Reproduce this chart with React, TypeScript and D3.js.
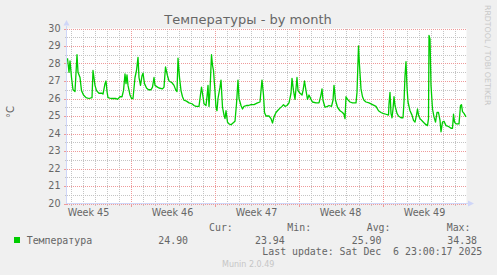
import React from "react";
import * as d3 from "d3";

// Hours since Sun 2 Nov 2025 00:00 (2-hour munin "month" resolution)
const hours = [
  42, 45, 47, 50, 53, 57, 61, 63, 67, 70, 74, 79, 85, 91, 93, 97, 100, 105, 111, 113,
  117, 119, 121, 123, 129, 139, 142, 147, 151, 154, 157, 159, 161, 163, 167, 170, 173, 177, 180, 183,
  185, 188, 191, 193, 196, 200, 204, 209, 212, 215, 217, 222, 225, 232, 235, 238, 242, 245, 251, 255,
  259, 261, 263, 266, 269, 272, 275, 280, 285, 291, 295, 299, 305, 307, 310, 313, 315, 319, 321, 323,
  325, 327, 330, 332, 334, 337, 339, 341, 343, 347, 349, 352, 355, 357, 359, 362, 365, 369, 373, 377,
  380, 383, 385, 389, 392, 395, 400, 404, 409, 415, 422, 427, 429, 431, 434, 436, 439, 445, 449, 452,
  455, 459, 462, 467, 471, 474, 477, 481, 485, 489, 491, 494, 497, 501, 503, 507, 511, 513, 516, 519,
  522, 525, 529, 532, 539, 545, 549, 551, 553, 557, 562, 565, 570, 573, 575, 578, 582, 587, 592, 595,
  597, 599, 602, 607, 612, 619, 621, 624, 626, 629, 632, 635, 639, 645, 652, 659, 664, 669, 673, 679,
  684, 685, 687, 689, 691, 693, 695, 697, 701, 704, 709, 713, 715, 717, 719, 721, 723, 727, 731, 734,
  737, 740, 742, 744, 747, 752, 757, 762, 764, 765, 767, 769, 772, 775, 778, 781, 784, 787, 789, 792,
  795, 799, 804, 809, 812, 814, 816, 819, 825, 828, 830, 832, 835, 839,
];
const temps = [
  28.3, 27.5, 28.15, 27.2, 26.5, 26.4, 28.5, 27.5, 27.2, 26.45, 26.2, 26.05, 26.0, 26.05, 27.6, 26.75, 26.45, 26.3, 26.3, 26.25,
  26.85, 27.0, 26.4, 26.05, 26.0, 26.0, 25.95, 26.1, 26.1, 26.45, 27.4, 26.85, 27.35, 26.75, 26.2, 26.0, 26.0, 27.2, 27.6, 28.35,
  27.2, 26.75, 27.3, 27.45, 26.85, 26.6, 26.5, 26.5, 26.65, 27.2, 26.75, 26.65, 26.6, 26.55, 26.65, 27.8, 27.3, 27.0, 26.9, 26.75,
  26.45, 26.4, 28.3, 27.2, 26.45, 26.1, 25.9, 25.85, 25.75, 25.7, 25.6, 25.55, 25.55, 26.0, 26.65, 26.1, 25.7, 25.6, 26.1, 26.75,
  25.55, 26.45, 28.5, 27.9, 27.6, 26.4, 25.5, 25.3, 26.0, 26.65, 27.05, 25.5, 25.05, 24.85, 25.3, 24.65, 24.55, 24.5, 24.6, 24.7,
  25.7, 27.05, 26.0, 25.6, 25.4, 25.55, 25.6, 25.6, 25.65, 25.65, 25.75, 25.8, 26.45, 27.05, 26.2, 25.2, 25.0, 25.0, 24.85, 24.6,
  24.95, 25.2, 25.3, 25.45, 25.55, 25.65, 25.55, 25.6, 25.75, 26.3, 27.15, 26.45, 25.95, 27.2, 26.45, 26.3, 26.2, 26.45, 27.0, 26.45,
  25.95, 26.2, 25.95, 25.8, 25.75, 25.75, 26.2, 26.55, 25.9, 25.5, 25.55, 25.6, 25.55, 25.9, 26.75, 25.9, 25.5, 25.3, 25.2, 25.1,
  24.85, 26.1, 25.95, 25.8, 25.75, 25.75, 26.35, 29.0, 27.9, 26.55, 26.1, 25.9, 25.8, 25.75, 25.65, 25.55, 25.3, 25.2, 25.15, 25.1,
  25.05, 25.7, 26.35, 25.15, 24.9, 25.4, 26.1, 25.6, 25.15, 25.0, 24.9, 24.9, 25.8, 27.3, 28.1, 26.65, 25.8, 25.3, 25.05, 24.75,
  24.65, 25.05, 25.4, 25.05, 24.85, 24.7, 24.55, 24.45, 24.85, 29.6, 29.4, 26.75, 25.4, 24.95, 24.65, 25.2, 25.2, 24.75, 24.1, 24.65,
  24.7, 24.45, 24.4, 24.3, 24.3, 25.1, 24.65, 24.55, 24.55, 25.6, 25.65, 25.25, 25.15, 24.95,
];

const weekLabels = ["Week 45", "Week 46", "Week 47", "Week 48", "Week 49"];
const yTicks = [20, 21, 22, 23, 24, 25, 26, 27, 28, 29, 30];
const timeDomain = [40, 840];
const valueDomain = [20, 30];

const title = "Температуры - by month";
const yLabel = "°C";
const seriesName = "Температура";
const statHeaders = ["Cur:", "Min:", "Avg:", "Max:"];
const statValues = ["24.90", "23.94", "25.90", "34.38"];
const lastUpdate = "Last update: Sat Dec  6 23:00:17 2025";
const watermark = "RRDTOOL / TOBI OETIKER";
const footer = "Munin 2.0.49";

export default function App() {
  const W = 497, H = 275;
  const left = 66.5, right = 466.5, top = 28.5, bottom = 203.5;
  const x = d3.scaleLinear().domain(timeDomain).range([left, right]);
  const y = d3.scaleLinear().domain(valueDomain).range([bottom, top]);

  const line = d3
    .line<number>()
    .x((_, i) => x(hours[i]))
    .y((d) => y(d))
    .curve(d3.curveLinear);

  const dayTicks = d3.range(48, 840, 24);
  const weekTicks = d3.range(168, 840, 168);
  const minorY = d3.range(20.5, 30, 1);
  const labelTicks = weekLabels.map((_, i) => 84 + 168 * i);

  const sans = "'DejaVu Sans', Verdana, sans-serif";
  const mono = "'DejaVu Sans Mono', monospace";
  const fontColor = "#666666";
  const axisColor = "#CFD6F8";
  const gridColor = "#c4c4c4";
  const mgridColor = "#ee9a9a";

  const headerX = [209, 287.3, 366.7, 446.7];
  const valueX = [158.3, 255, 351.7, 447.3];

  return (
    <svg
      width={W}
      height={H}
      style={{ position: "absolute", left: 0, top: 0, display: "block" }}
      xmlns="http://www.w3.org/2000/svg"
    >
      <rect x={0} y={0} width={W} height={H} fill="#F0F0F0" />
      <rect x={left} y={top} width={right - left} height={bottom - top} fill="#FFFFFF" />

      {/* minor grid */}
      <g stroke={gridColor} strokeWidth={1} strokeDasharray="1,1" shapeRendering="crispEdges">
        {dayTicks.filter((h) => h % 168 !== 0).map((h) => (
          <line key={"vd" + h} x1={Math.round(x(h)) + 0.5} x2={Math.round(x(h)) + 0.5} y1={top} y2={bottom} />
        ))}
        {minorY.map((v) => (
          <line key={"hm" + v} x1={left} x2={right} y1={Math.round(y(v)) + 0.5} y2={Math.round(y(v)) + 0.5} />
        ))}
      </g>
      <g stroke={gridColor} strokeWidth={1} shapeRendering="crispEdges">
        {dayTicks.filter((h) => h % 168 !== 0).map((h) => (
          <line key={"vdt" + h} x1={Math.round(x(h)) + 0.5} x2={Math.round(x(h)) + 0.5} y1={bottom} y2={bottom + 2} />
        ))}
        {minorY.map((v) => (
          <line key={"hmt" + v} x1={left - 2} x2={left} y1={Math.round(y(v)) + 0.5} y2={Math.round(y(v)) + 0.5} />
        ))}
      </g>
      {/* major grid */}
      <g stroke={mgridColor} strokeWidth={1} strokeDasharray="1,1" shapeRendering="crispEdges">
        {weekTicks.map((h) => (
          <line key={"vw" + h} x1={Math.round(x(h)) + 0.5} x2={Math.round(x(h)) + 0.5} y1={top} y2={bottom} />
        ))}
        {yTicks.map((v) => (
          <line key={"hy" + v} x1={left} x2={right} y1={Math.round(y(v)) + 0.5} y2={Math.round(y(v)) + 0.5} />
        ))}
      </g>
      <g stroke={mgridColor} strokeWidth={1} shapeRendering="crispEdges">
        {weekTicks.map((h) => (
          <line key={"vwt" + h} x1={Math.round(x(h)) + 0.5} x2={Math.round(x(h)) + 0.5} y1={bottom} y2={bottom + 3} />
        ))}
        {yTicks.map((v) => (
          <line key={"hyt" + v} x1={left - 3} x2={left} y1={Math.round(y(v)) + 0.5} y2={Math.round(y(v)) + 0.5} />
        ))}
      </g>

      {/* data line */}
      <path d={line(temps) || ""} fill="none" stroke="#00CC00" strokeWidth={1.3} strokeLinejoin="round" />

      {/* axes */}
      <g stroke={axisColor} strokeWidth={1} shapeRendering="crispEdges">
        <line x1={left} x2={right + 2} y1={bottom} y2={bottom} />
        <line x1={left} x2={left} y1={bottom} y2={top - 3} />
      </g>
      <path d={`M${right + 1.5},${bottom - 3}L${right + 7.5},${bottom}L${right + 1.5},${bottom + 3}Z`} fill={axisColor} />
      <path d={`M${left - 3},${top - 3}L${left},${top - 8.5}L${left + 3},${top - 3}Z`} fill={axisColor} />

      {/* y tick labels */}
      <g fontFamily={sans} fontSize={9.6} fill={fontColor} textAnchor="end">
        {yTicks.map((v) => (
          <text key={"yl" + v} x={60.5} y={y(v) + 3.4}>
            {v}
          </text>
        ))}
      </g>
      {/* x tick labels */}
      <g fontFamily={sans} fontSize={9.6} fill={fontColor} textAnchor="middle">
        {weekLabels.map((lbl, i) => (
          <text key={lbl} x={x(labelTicks[i])} y={216}>
            {lbl}
          </text>
        ))}
      </g>

      {/* title */}
      <text x={248} y={24} fontFamily={sans} fontSize={13} fill={fontColor} textAnchor="middle">
        {title}
      </text>
      {/* y label */}
      <text
        transform="translate(14,112) rotate(-90)"
        fontFamily={sans}
        fontSize={10}
        fill={fontColor}
        textAnchor="middle"
      >
        {yLabel}
      </text>
      {/* watermark */}
      <text
        transform="translate(485,5) rotate(90)"
        fontFamily={sans}
        fontSize={7.8}
        fill="#c8c8c8"
      >
        {watermark}
      </text>

      {/* legend */}
      <rect x={14} y={237} width={6} height={6} fill="#00CC00" />
      <g fontFamily={mono} fontSize={9.9} fill={fontColor} style={{ whiteSpace: "pre" }}>
        <text x={26.7} y={243.5}>{seriesName}</text>
        {statHeaders.map((h, i) => (
          <text key={h} x={headerX[i]} y={231.3}>
            {h}
          </text>
        ))}
        {statValues.map((v, i) => (
          <text key={"sv" + i} x={valueX[i]} y={243.5}>
            {v}
          </text>
        ))}
        <text x={482.3} y={254.7} textAnchor="end" xmlSpace="preserve">
          {lastUpdate}
        </text>
      </g>
      <text x={222} y={267.3} fontFamily={sans} fontSize={8} fill="#c6c6c6">
        {footer}
      </text>
    </svg>
  );
}
